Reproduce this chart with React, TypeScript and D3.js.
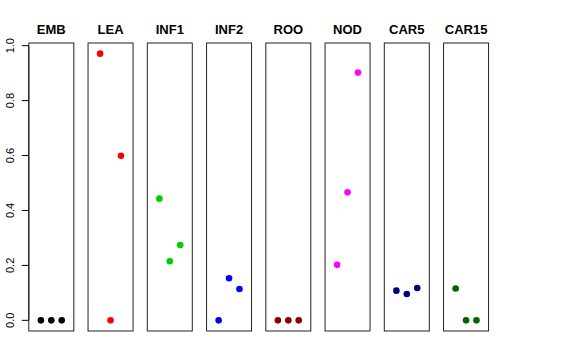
import { useEffect, useRef } from 'react';
import * as d3 from 'd3';

const tissues = ['EMB', 'LEA', 'INF1', 'INF2', 'ROO', 'NOD', 'CAR5', 'CAR15'];
const colors = ['#000000', '#ff0000', '#00cd00', '#0000ff', '#8b0000', '#ff00ff', '#000080', '#006400'];
// three samples per tissue, left to right
const values = [
  [0, 0, 0],
  [0.971, 0, 0.599],
  [0.443, 0.215, 0.274],
  [0, 0.153, 0.114],
  [0, 0, 0],
  [0.202, 0.466, 0.902],
  [0.108, 0.096, 0.118],
  [0.116, 0, 0],
];
const yTicks = [0, 0.2, 0.4, 0.6, 0.8, 1.0];

export default function App() {
  const ref = useRef<SVGSVGElement>(null);

  useEffect(() => {
    const svg = d3.select(ref.current);
    svg.selectAll('*').remove();

    const top = 43, bottom = 331;
    const left0 = 28.8, panelW = 45, step = 59.25;

    const yMax = d3.max(values.flat()) as number;
    const pad = yMax * 0.04;
    const y = d3.scaleLinear().domain([-pad, yMax + pad]).range([bottom, top]);
    const x = d3.scaleLinear().domain([-0.16, 4.16]).range([0, panelW]);

    // y axis on first panel
    const ax = svg.append('g').attr('transform', `translate(${left0},0)`);
    ax.append('line')
      .attr('x1', 0).attr('x2', 0)
      .attr('y1', y(0)).attr('y2', y(1))
      .attr('stroke', '#000');
    yTicks.forEach(t => {
      ax.append('line')
        .attr('x1', -7).attr('x2', 0)
        .attr('y1', y(t)).attr('y2', y(t))
        .attr('stroke', '#000');
      ax.append('text')
        .attr('transform', `translate(${-15},${y(t)}) rotate(-90)`)
        .attr('text-anchor', 'middle')
        .attr('font-family', 'Liberation Sans, Arial, sans-serif')
        .attr('font-size', 11)
        .text(t.toFixed(1));
    });

    tissues.forEach((name, i) => {
      const g = svg.append('g').attr('transform', `translate(${left0 + i * step},0)`);
      g.append('rect')
        .attr('x', 0).attr('y', top)
        .attr('width', panelW).attr('height', bottom - top)
        .attr('fill', 'none')
        .attr('stroke', '#222');
      g.append('text')
        .attr('x', panelW / 2).attr('y', 34)
        .attr('text-anchor', 'middle')
        .attr('font-family', 'Liberation Sans, Arial, sans-serif')
        .attr('font-weight', 'bold')
        .attr('font-size', 13)
        .text(name);
      g.selectAll('circle')
        .data(values[i])
        .enter().append('circle')
        .attr('cx', (d, j) => x(j + 1))
        .attr('cy', d => y(d))
        .attr('r', 3.3)
        .attr('fill', colors[i]);
    });
  }, []);

  return (
    <svg ref={ref} width="576" height="360"
      style={{ position: 'absolute', left: 0, top: 0, background: '#fff' }} />
  );
}
